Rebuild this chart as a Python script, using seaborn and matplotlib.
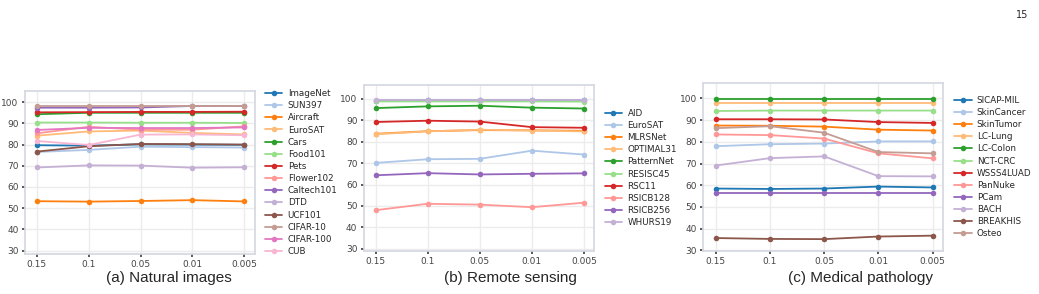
import matplotlib
matplotlib.use('Agg')
import matplotlib.pyplot as plt
import pandas as pd
import seaborn as sns

# x axis: ratio values (categorical)
ratios = ['0.15', '0.1', '0.05', '0.01', '0.005']

# (a) Natural images
natural = {
    'ImageNet':   [79.7, 79.5, 80.1, 80.0, 79.9],
    'SUN397':     [76.5, 77.5, 79.0, 78.8, 78.6],
    'Aircraft':   [53.3, 53.1, 53.4, 53.8, 53.2],
    'EuroSAT':    [84.2, 86.2, 86.6, 85.5, 84.8],
    'Cars':       [94.3, 95.0, 95.0, 95.0, 95.0],
    'Food101':    [90.4, 90.4, 90.3, 90.3, 90.2],
    'Pets':       [95.2, 95.3, 95.4, 95.4, 95.5],
    'Flower102':  [85.3, 88.4, 87.0, 87.0, 88.6],
    'Caltech101': [97.4, 97.4, 97.5, 98.2, 98.2],
    'DTD':        [69.2, 70.2, 70.1, 69.1, 69.3],
    'UCF101':     [76.7, 79.2, 80.3, 80.2, 80.0],
    'CIFAR-10':   [98.2, 98.2, 98.2, 98.2, 98.2],
    'CIFAR-100':  [86.9, 87.9, 87.8, 87.8, 88.1],
    'CUB':        [81.7, 79.8, 84.7, 84.8, 84.4],
}

# (b) Remote sensing
remote = {
    'AID':        [99.2, 99.3, 99.3, 99.3, 99.3],
    'EuroSAT':    [70.1, 71.8, 72.0, 75.8, 74.0],
    'MLRSNet':    [83.7, 84.9, 85.4, 85.3, 85.1],
    'OPTIMAL31':  [83.5, 84.8, 85.6, 85.2, 84.8],
    'PatternNet': [95.7, 96.5, 96.8, 95.9, 95.5],
    'RESISC45':   [98.8, 98.8, 98.8, 98.8, 98.7],
    'RSC11':      [89.2, 89.8, 89.4, 86.8, 86.5],
    'RSICB128':   [48.0, 51.0, 50.6, 49.4, 51.5],
    'RSICB256':   [64.3, 65.3, 64.7, 65.0, 65.2],
    'WHURS19':    [99.5, 99.5, 99.5, 99.5, 99.5],
}

# (c) Medical pathology
medical = {
    'SICAP-MIL':   [58.5, 58.3, 58.5, 59.4, 59.0],
    'SkinCancer':  [78.0, 78.9, 79.2, 80.2, 80.2],
    'SkinTumor':   [87.5, 87.4, 87.0, 85.6, 85.2],
    'LC-Lung':     [97.8, 97.8, 97.8, 97.8, 97.8],
    'LC-Colon':    [99.7, 99.7, 99.7, 99.7, 99.7],
    'NCT-CRC':     [94.2, 94.4, 94.4, 94.4, 94.4],
    'WSSS4LUAD':   [90.4, 90.4, 90.3, 89.1, 88.7],
    'PanNuke':     [83.4, 83.1, 81.5, 74.7, 72.4],
    'PCam':        [56.4, 56.4, 56.4, 56.4, 56.4],
    'BACH':        [69.1, 72.5, 73.3, 64.2, 64.1],
    'BREAKHIS':    [35.7, 35.3, 35.2, 36.4, 36.8],
    'Osteo':       [86.3, 87.2, 84.2, 75.3, 74.7],
}

sns.set_theme(style='whitegrid', rc={
    'axes.edgecolor': '#d5d9e0',
    'grid.color': '#ececec',
    'xtick.bottom': True,
    'ytick.left': True,
    'xtick.color': '#444444',
    'ytick.color': '#444444',
    'xtick.major.size': 2.5,
    'ytick.major.size': 2.5,
})
plt.rcParams['font.family'] = ['DejaVu Sans']

fig = plt.figure(figsize=(10.39, 2.94), dpi=100)

panels = [
    (natural, [0.024, 0.136, 0.221, 0.554], (28.4, 105.2), '(a) Natural images', 0.163),
    (remote, [0.350, 0.146, 0.222, 0.565], (28.9, 106.5), '(b) Remote sensing', 0.491),
    (medical, [0.677, 0.146, 0.231, 0.571], (29.7, 107.0), '(c) Medical pathology', 0.828),
]

for data, pos, ylim, caption, cx in panels:
    ax = fig.add_axes(pos)
    df = pd.DataFrame(data, index=ratios)
    df.index.name = 'ratio'
    long = df.reset_index().melt(id_vars='ratio', var_name='dataset', value_name='acc')
    pal = sns.color_palette('tab20', len(data))
    sns.lineplot(data=long, x='ratio', y='acc', hue='dataset', palette=pal,
                 marker='o', markersize=4, markeredgewidth=0, linewidth=1.3,
                 sort=False, ax=ax)
    ax.set_xlim(-0.23, 4.2)
    ax.set_ylim(*ylim)
    ax.set_yticks([30, 40, 50, 60, 70, 80, 90, 100])
    ax.tick_params(labelsize=6.5, pad=2)
    ax.set_xlabel('')
    ax.set_ylabel('')
    ax.legend(loc='center left', bbox_to_anchor=(1.03, 0.5), frameon=False,
              fontsize=6.3, labelspacing=0.36, handlelength=2.0,
              handletextpad=0.6, borderaxespad=0)
    fig.text(cx, 0.055, caption, ha='center', va='center', fontsize=11,
             family='Liberation Sans')

fig.text(0.99, 0.95, '15', ha='right', va='center', fontsize=7)

fig.savefig('out.png', dpi=100)
